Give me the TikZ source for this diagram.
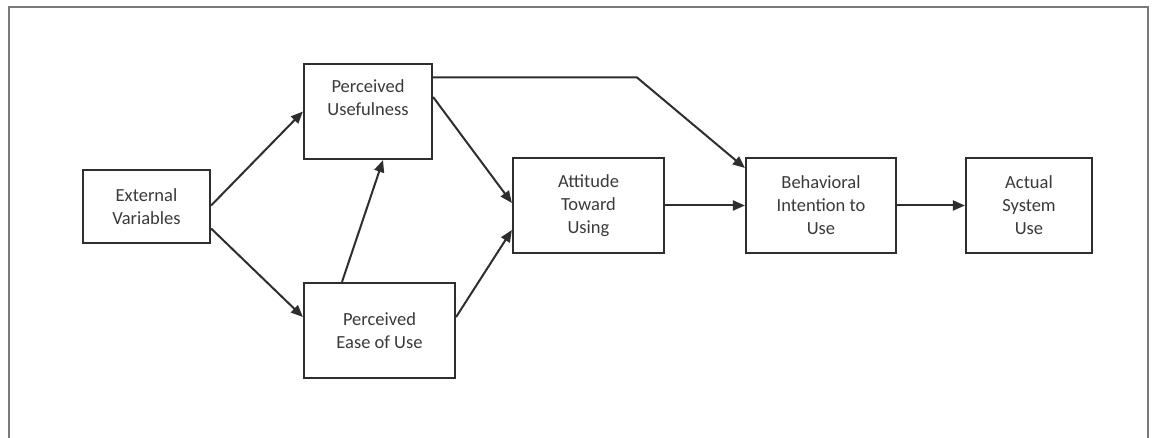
\documentclass[tikz,border=0pt]{standalone}
\usepackage{fontspec}
\setmainfont{Carlito}
\usetikzlibrary{arrows.meta}
\definecolor{framegray}{HTML}{7A7A7A}
\definecolor{boxline}{HTML}{2E2E2E}
\definecolor{textgray}{HTML}{3A3A3A}
\tikzset{
  box/.style={draw=boxline, line width=2.2pt, rectangle, inner sep=0pt, align=center,
    text=textgray, font=\fontsize{18.5}{23}\selectfont},
  conn/.style={draw=boxline, line width=2pt, -{Triangle[length=12pt,width=10pt]}},
}
\begin{document}
\begin{tikzpicture}[x=1pt,y=-1pt]
\useasboundingbox (0,0) rectangle (1156,438);
\fill[white] (0,0) rectangle (1156,438);
\draw[framegray, line width=2.2pt] (9,438) -- (9,7) -- (1148,7) -- (1148,438);

\node[box, minimum width=127pt, minimum height=73pt] (ev) at (146.5,206.5) {External\\Variables};
\node[box, minimum width=128pt, minimum height=95pt] (pu) at (368,111.5) {Perceived\\Usefulness\\[4pt]};
\node[box, minimum width=151pt, minimum height=95pt] (peou) at (379.5,330.5) {Perceived\\Ease of Use};
\node[box, minimum width=151pt, minimum height=95pt] (atu) at (588.5,205.5) {Attitude\\Toward\\Using};
\node[box, minimum width=150pt, minimum height=95pt] (bi) at (821,205.5) {Behavioral\\Intention to\\Use};
\node[box, minimum width=126pt, minimum height=95pt] (asu) at (1029,205.5) {Actual\\System\\Use};

\coordinate (bend) at (637,77.5);

\draw[conn] ([yshift=1pt]ev.east) -- (pu.west);
\draw[conn] ([yshift=-22pt]ev.east) -- ([yshift=13.5pt]peou.west);
\draw[conn] ([xshift=-37.5pt]peou.north) -- ([xshift=15pt]pu.south);
\draw[conn] ([yshift=14.5pt]pu.east) -- ([yshift=2.5pt]atu.west);
\draw[conn] ([yshift=13.5pt]peou.east) -- ([yshift=-24.5pt]atu.west);
\draw[conn] (atu.east) -- (bi.west);
\draw[conn] (bi.east) -- (asu.west);
\draw[conn] ([yshift=34pt]pu.east) -- (bend) -- ([yshift=37.5pt]bi.west);
\end{tikzpicture}
\end{document}
